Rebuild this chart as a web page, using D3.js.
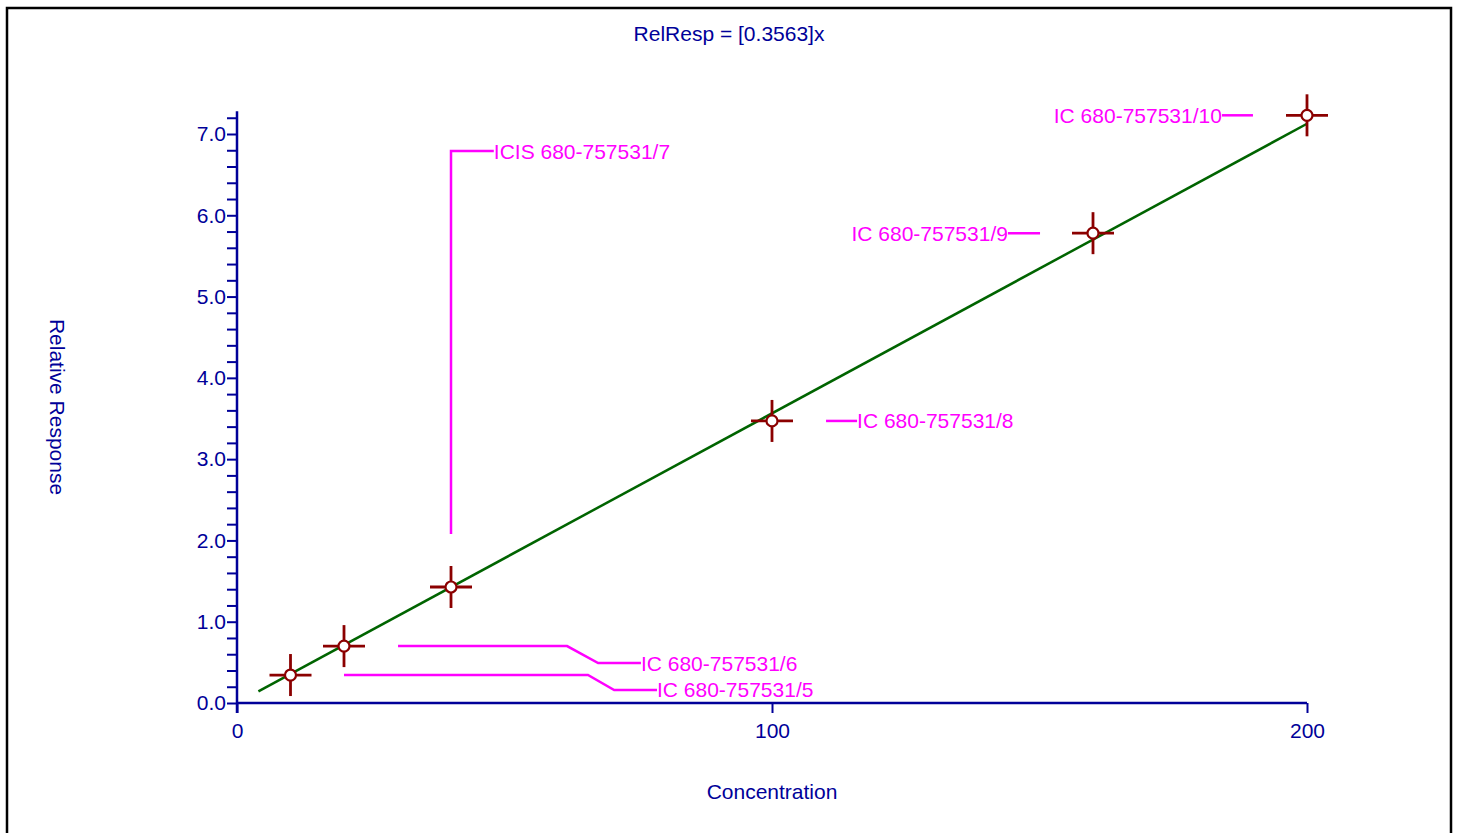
<!DOCTYPE html>
<html>
<head>
<meta charset="utf-8">
<script src="https://cdn.jsdelivr.net/npm/d3@7"></script>
<style>
  html, body { margin: 0; padding: 0; background: #fff; }
  svg { display: block; }
  text { font-family: "Liberation Sans", Arial, sans-serif; }
</style>
</head>
<body>
<svg id="chart" width="1457" height="833"></svg>
<script>
// ---- data ----
const concentrations = [10, 20, 40, 100, 160, 200];
const responses = [0.344, 0.70, 1.427, 3.47, 5.78, 7.23];
const pointLabels = ["IC 680-757531/5", "IC 680-757531/6", "ICIS 680-757531/7",
                     "IC 680-757531/8", "IC 680-757531/9", "IC 680-757531/10"];
// leader paths for labels, in data units (conc, response); last point is the text anchor
const leaderPaths = [
  [[20, 0.344], [65.6, 0.344], [70.5, 0.16], [78.5, 0.16]],
  [[30.1, 0.70], [61.7, 0.70], [67.5, 0.492], [75.5, 0.492]],
  [[40, 2.08], [40, 6.79], [48.0, 6.79]],
  [[110.1, 3.47], [115.9, 3.47]],
  [[150.1, 5.78], [144.1, 5.78]],
  [[189.9, 7.23], [184.1, 7.23]]
];
const labelAnchors = ["start", "start", "start", "start", "end", "end"];
const fitLine = [[4, 0.1425], [200, 7.126]];
const xTicks = [0, 100, 200];
const yMajorTicks = [0, 1, 2, 3, 4, 5, 6, 7];
const yMinorTicks = [0.2,0.4,0.6,0.8,1.2,1.4,1.6,1.8,2.2,2.4,2.6,2.8,3.2,3.4,3.6,3.8,4.2,4.4,4.6,4.8,5.2,5.4,5.6,5.8,6.2,6.4,6.6,6.8,7.2];
const titleText = "RelResp = [0.3563]x";
const xTitle = "Concentration";
const yTitle = "Relative Response";

// ---- layout ----
const navy = "#000099";
const fs = 21;
const svg = d3.select("#chart");

svg.append("rect").attr("x", 7).attr("y", 8).attr("width", 1444).attr("height", 840)
  .attr("fill", "none").attr("stroke", "#000").attr("stroke-width", 2.5);

const x = d3.scaleLinear().domain([0, 200]).range([237, 1307]);
const y = d3.scaleLinear().domain([0, 7]).range([703, 134]);

// y axis
const yAxisG = svg.append("g").attr("transform", `translate(${x(0)},0)`);
yAxisG.append("line").attr("x1", 0).attr("x2", 0).attr("y1", y(7.28)).attr("y2", 713)
  .attr("stroke", navy).attr("stroke-width", 2.5);
const yAxis = d3.axisLeft(y).tickValues(yMajorTicks).tickFormat(d3.format(".1f")).tickSize(10).tickPadding(1);
yAxisG.call(yAxis);
yAxisG.select(".domain").remove();
yAxisG.selectAll(".tick line").attr("stroke", navy).attr("stroke-width", 2);
yAxisG.selectAll(".tick text").attr("fill", navy).attr("font-size", fs)
  .attr("font-family", "Liberation Sans, Arial, sans-serif");
const yMinor = d3.axisLeft(y).tickValues(yMinorTicks).tickSize(10).tickFormat("");
const yMinorG = yAxisG.append("g").call(yMinor);
yMinorG.select(".domain").remove();
yMinorG.selectAll(".tick line").attr("stroke", navy).attr("stroke-width", 2);

// x axis
const xAxisG = svg.append("g").attr("transform", `translate(0,${y(0)})`);
xAxisG.append("line").attr("x1", x(0)).attr("x2", x(200)).attr("y1", 0).attr("y2", 0)
  .attr("stroke", navy).attr("stroke-width", 2.5);
const xAxis = d3.axisBottom(x).tickValues(xTicks).tickFormat(d3.format("d")).tickSize(10).tickPadding(10);
xAxisG.call(xAxis);
xAxisG.select(".domain").remove();
xAxisG.selectAll(".tick line").attr("stroke", navy).attr("stroke-width", 2);
xAxisG.selectAll(".tick text").attr("fill", navy).attr("font-size", fs)
  .attr("font-family", "Liberation Sans, Arial, sans-serif");

// titles
svg.append("text").attr("x", 729).attr("y", 33).attr("text-anchor", "middle")
  .attr("dominant-baseline", "central").attr("fill", navy).attr("font-size", fs).text(titleText);
svg.append("text").attr("x", 772).attr("y", 791).attr("text-anchor", "middle")
  .attr("dominant-baseline", "central").attr("fill", navy).attr("font-size", fs).text(xTitle);
svg.append("text").attr("transform", "translate(57,407) rotate(90)").attr("text-anchor", "middle")
  .attr("dominant-baseline", "central").attr("fill", navy).attr("font-size", fs).text(yTitle);

// fit line
svg.append("line")
  .attr("x1", x(fitLine[0][0])).attr("y1", y(fitLine[0][1]))
  .attr("x2", x(fitLine[1][0])).attr("y2", y(fitLine[1][1]))
  .attr("stroke", "#006400").attr("stroke-width", 2.5);

// leaders and labels
const lineGen = d3.line().x(d => x(d[0])).y(d => y(d[1]));
leaderPaths.forEach((p, i) => {
  svg.append("path").attr("d", lineGen(p)).attr("fill", "none")
    .attr("stroke", "#ff00ff").attr("stroke-width", 2.5);
  const end = p[p.length - 1];
  svg.append("text").attr("x", x(end[0])).attr("y", y(end[1]))
    .attr("text-anchor", labelAnchors[i]).attr("dominant-baseline", "central")
    .attr("fill", "#ff00ff").attr("font-size", fs).text(pointLabels[i]);
});

// markers
const red = "#8b0000";
const pts = concentrations.map((c, i) => [c, responses[i]]);
const mg = svg.append("g").selectAll("g").data(pts).join("g")
  .attr("transform", d => `translate(${x(d[0])},${y(d[1])})`);
mg.append("line").attr("x1", -21).attr("x2", 21).attr("y1", 0).attr("y2", 0)
  .attr("stroke", red).attr("stroke-width", 2.8);
mg.append("line").attr("x1", 0).attr("x2", 0).attr("y1", -21).attr("y2", 21)
  .attr("stroke", red).attr("stroke-width", 2.8);
mg.append("circle").attr("r", 5.5).attr("fill", "#fff").attr("stroke", red).attr("stroke-width", 2.2);
</script>
</body>
</html>
